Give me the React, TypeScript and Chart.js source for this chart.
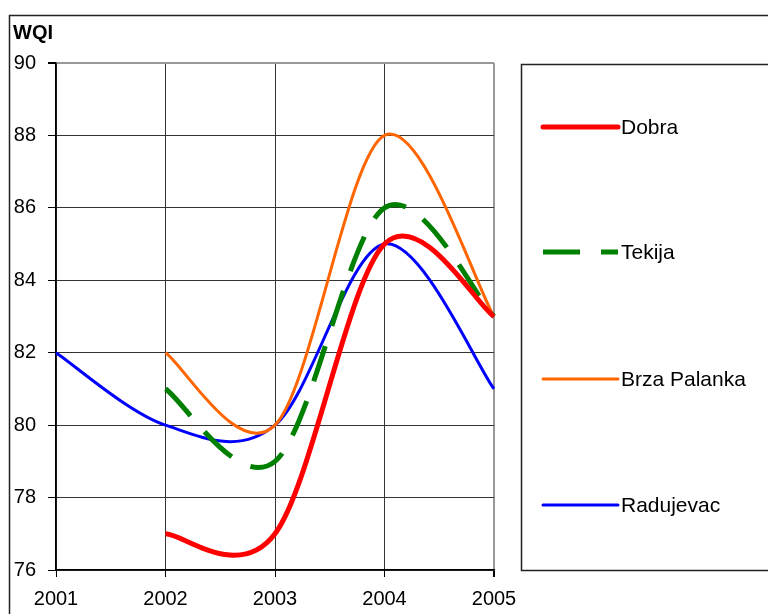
import React, { useEffect, useRef } from "react";
import { Chart, registerables } from "chart.js";

Chart.register(...registerables);

const years = ["2001", "2002", "2003", "2004", "2005"];
const dobra = [null, 77, 77, 85, 83];
const tekija = [null, 81, 79, 86, 83];
const brzaPalanka = [null, 82, 80, 88, 83];
const radujevac = [82, 80, 80, 85, 81];
const yTicks = [76, 78, 80, 82, 84, 86, 88, 90];
const yTitle = "WQI";

const FONT = "'Liberation Sans', Arial, sans-serif";

// Excel-like smoothing: uniform Catmull-Rom control points on the library's own pixel positions
const smoothPlugin = {
  id: "smoothPlugin",
  beforeDatasetDraw(chart: any, args: any) {
    const line = args.meta.dataset;
    if (!line) return;
    line.updateControlPoints(chart.chartArea, "x");
    const pts = (line.points || []).filter((p: any) => !p.skip);
    for (let i = 0; i < pts.length; i++) {
      const p = pts[i];
      const prev = pts[i - 1] || p;
      const next = pts[i + 1] || p;
      const dx = (next.x - prev.x) / 6;
      const dy = (next.y - prev.y) / 6;
      p.cp1x = p.x - dx;
      p.cp1y = p.y - dy;
      p.cp2x = p.x + dx;
      p.cp2y = p.y + dy;
    }
  },
};

const framePlugin = {
  id: "framePlugin",
  afterDraw(chart: any) {
    const ctx = chart.ctx;
    ctx.save();
    // outer frame
    ctx.strokeStyle = "#222";
    ctx.lineWidth = 1.5;
    ctx.beginPath();
    ctx.moveTo(9.5, 700);
    ctx.lineTo(9.5, 15.5);
    ctx.lineTo(800, 15.5);
    ctx.stroke();
    // title
    ctx.fillStyle = "#000";
    ctx.font = "bold 20px " + FONT;
    ctx.textBaseline = "alphabetic";
    ctx.textAlign = "left";
    ctx.fillText(yTitle, 13, 39);
    // legend box
    ctx.strokeStyle = "#222";
    ctx.lineWidth = 1.5;
    ctx.strokeRect(521.5, 64.5, 400, 506);
    const ys = [127, 252, 379, 505];
    chart.data.datasets.forEach((ds: any, i: number) => {
      const y = ys[i];
      ctx.save();
      ctx.strokeStyle = ds.borderColor;
      ctx.lineWidth = ds.borderWidth;
      ctx.lineCap = ds.borderDash && ds.borderDash.length ? "butt" : "round";
      ctx.setLineDash(ds.borderDash || []);
      ctx.beginPath();
      ctx.moveTo(543, y);
      ctx.lineTo(618, y);
      ctx.stroke();
      ctx.restore();
      ctx.fillStyle = "#000";
      ctx.font = "21px " + FONT;
      ctx.textBaseline = "middle";
      ctx.textAlign = "left";
      ctx.fillText(ds.label, 621, y + 1);
    });
    ctx.restore();
  },
};

export default function App() {
  const ref = useRef<HTMLCanvasElement | null>(null);
  useEffect(() => {
    if (!ref.current) return;
    const chart = new Chart(ref.current, {
      type: "line",
      data: {
        labels: years,
        datasets: [
          { label: "Dobra", data: dobra, borderColor: "#ff0000", borderWidth: 5, tension: 0.5 },
          { label: "Tekija", data: tekija, borderColor: "#008000", borderWidth: 5, borderDash: [37, 21], tension: 0.5 },
          { label: "Brza Palanka", data: brzaPalanka, borderColor: "#ff6600", borderWidth: 3, tension: 0.5 },
          { label: "Radujevac", data: radujevac, borderColor: "#0000ff", borderWidth: 3, tension: 0.5 },
        ],
      },
      options: {
        responsive: false,
        animation: false,
        layout: { padding: { left: 0, right: 274, top: 63, bottom: 0 } },
        elements: { point: { radius: 0, hoverRadius: 0 }, line: { fill: false, capBezierPoints: false } },
        plugins: { legend: { display: false }, tooltip: { enabled: false }, title: { display: false } },
        scales: {
          x: {
            type: "category",
            offset: false,
            grid: {
              color: (c: any) => (c.index === years.length - 1 ? "#999" : "#333"),
              lineWidth: (c: any) => (c.index === years.length - 1 ? 2 : 1),
              tickColor: "#000",
              tickLength: 7,
              offset: false,
            },
            border: { color: "#000", width: 1.5 },
            ticks: { color: "#000", font: { family: FONT, size: 20 }, padding: 10, maxRotation: 0, autoSkip: false },
            afterFit: (s: any) => {
              s.height = 44;
            },
          },
          y: {
            min: 76,
            max: 90,
            afterBuildTicks: (s: any) => {
              s.ticks = yTicks.map((v) => ({ value: v }));
            },
            grid: {
              color: (c: any) => (c.tick && c.tick.value === 90 ? "#999" : "#333"),
              lineWidth: (c: any) => (c.tick && c.tick.value === 90 ? 2 : 1),
              tickColor: "#000",
              tickLength: 8,
            },
            border: { color: "#000", width: 1.5 },
            ticks: { color: "#000", font: { family: FONT, size: 20 }, padding: 12 },
            afterFit: (s: any) => {
              s.width = 56;
            },
          },
        },
      },
      plugins: [smoothPlugin, framePlugin],
    });
    return () => chart.destroy();
  }, []);
  return (
    <div style={{ position: "absolute", left: 0, top: 0, width: 768, height: 614, overflow: "hidden", background: "#fff" }}>
      <canvas ref={ref} width={768} height={614} style={{ display: "block" }} />
    </div>
  );
}
